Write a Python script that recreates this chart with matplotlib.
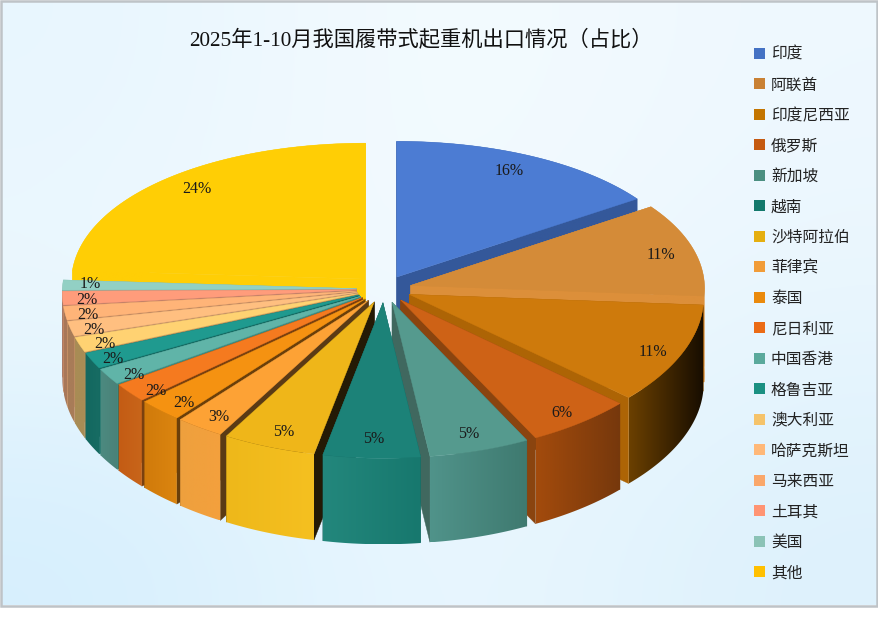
import numpy as np
import matplotlib
matplotlib.use('Agg')
import matplotlib.pyplot as plt
from matplotlib.colors import to_rgb
from matplotlib.patches import Polygon, Rectangle

# 2025 crawler crane exports, shares
countries = ['印度', '阿联酋', '印度尼西亚', '俄罗斯', '新加坡', '越南', '沙特阿拉伯', '菲律宾', '泰国',
             '尼日利亚', '中国香港', '格鲁吉亚', '澳大利亚', '哈萨克斯坦', '马来西亚', '土耳其', '美国', '其他']
shares = [15.5, 10.6, 10.7, 5.7, 5.4, 5.2, 5.0, 2.6, 2.4, 2.0, 1.7, 1.7, 1.6, 1.6, 1.5, 1.5, 1.1, 24.0]

legend_colors = ['#4472C4', '#C98134', '#C37500', '#C55A11', '#4B8F81', '#13796C', '#E5AF10', '#F19C38', '#EA8A0C',
                 '#EB6B15', '#5AA99C', '#1A9082', '#F5C36A', '#FFB878', '#FAA76A', '#FF9473', '#8BC3B6', '#FFC000']
top_colors = ['#4C7CD3', '#D48B38', '#CE7A0C', '#CE6216', '#559A8E', '#1C8278', '#EFB619', '#FDA235', '#F59211',
              '#F57A1F', '#60B4A8', '#1F9A8F', '#FFD272', '#FFBF80', '#FFB478', '#FF9C7B', '#92D0C4', '#FFCE05']
cut_colors = ['#34589A', '#DC8F3A', '#AD6405', '#8A440F', '#40685F', '#155F58', '#241A05', '#5A3A15', '#6A3F0A',
              '#7A400F', '#3F8A80', '#146A62', '#B8915A', '#C89468', '#C08860', '#C07E68', '#7DB5A8', '#FFCE05']
wall_left = ['#34589A', '#DC8F3A', '#6B4000', '#A34B0C', '#50938A', '#23877C', '#EEB81A', '#EEA03D', '#D07A0A',
             '#C45C14', '#4C8A80', '#136860', '#A88C55', '#A87C58', '#A8785A', '#A57560', '#7DA598', '#FFCE05']
wall_right = ['#34589A', '#DC8F3A', '#170D00', '#76380C', '#3F7A70', '#17786E', '#F5C020', '#F4A03D', '#DB8510',
              '#C8651A', '#4A8178', '#176C63', '#A88C55', '#A87C58', '#A8785A', '#A57560', '#7DA598', '#FFCE05']
# percent label placement: fraction of the radius, then a small pixel nudge
label_pos = [0.84, 0.89, 0.91, 0.91, 0.88, 0.88, 0.91, 0.93, 0.94, 0.94, 0.94, 0.94, 0.93, 0.93, 0.92, 0.92, 0.90, 0.85]
nudge_x = [-1, -1, -4, -2, 0, 1, 5, 7, 11, 12, 10, 5, 6, 3, -1, 1, -2, 1]
nudge_y = [-4, 2, 4, 2, 2, 0, -1, -1, 0, 4, 3, 2, 3, 4, 4, 3, -1, -4]

# pie geometry in pixels
CX, CY = 384, 289
R = 294
K = 0.495
PERSP = 0.058
PERSP_X = 0.02
DEPTH = 86
EXPLODE = 27.6


def proj(theta, r, ox, oy):
    # theta clockwise from 12 o'clock, y grows towards the viewer
    x = ox + r * np.sin(theta)
    y = oy - r * np.cos(theta)
    sx = CX + x * (1 + PERSP_X * y / R)
    sy = CY + K * y * (1 + PERSP * y / R)
    return np.column_stack([np.atleast_1d(sx), np.atleast_1d(sy)])


fig = plt.figure(figsize=(8.79, 6.17), dpi=100)
ax = fig.add_axes([0, 0, 1, 1])
ax.axis('off')

# background, soft blue wash inside a grey frame
bg = np.array([[to_rgb('#E8F6FE'), to_rgb('#F6FCFF'), to_rgb('#EEF8FE')],
               [to_rgb('#EDF8FE'), to_rgb('#F4FBFF'), to_rgb('#E9F6FE')],
               [to_rgb('#D6EFFD'), to_rgb('#EDF8FF'), to_rgb('#DDF1FC')]])
ax.imshow(bg, extent=(2, 877, 605, 1), interpolation='bicubic', aspect='auto', zorder=0)
ax.add_patch(Rectangle((1, 1), 876, 604.5, fill=False, ec='#BEC3C7', lw=1.8, zorder=1))

total = sum(shares)
edges = np.cumsum([0] + shares) / total * 2 * np.pi
mids = (edges[:-1] + edges[1:]) / 2
off_x = EXPLODE * np.sin(mids)
off_y = -EXPLODE * np.cos(mids)

# back slices first so the nearer ones cover their walls
order = np.argsort(-np.cos(mids))
z = 2
for i in order:
    t0, t1 = edges[i], edges[i + 1]
    ox, oy = off_x[i], off_y[i]
    thetas = np.linspace(t0, t1, max(int(np.degrees(t1 - t0)) * 2, 4))
    top_arc = np.vstack([proj(t, R, ox, oy) for t in thetas])
    apex = proj(0, 0, ox, oy)

    for t in (t0, t1):
        a_edge = proj(t, R, ox, oy)
        face = np.vstack([apex, a_edge, a_edge + [0, DEPTH], apex + [0, DEPTH]])
        ax.add_patch(Polygon(face, closed=True, fc=cut_colors[i], ec=cut_colors[i], lw=0.3, zorder=z))

    # outer wall: horizontal gradient clipped to the rim
    x_min, x_max = top_arc[:, 0].min(), top_arc[:, 0].max()
    grad = np.linspace(to_rgb(wall_left[i]), to_rgb(wall_right[i]), 64)[None, :, :]
    wall = np.vstack([top_arc, (top_arc + [0, DEPTH])[::-1]])
    im = ax.imshow(grad, extent=(x_min, x_max, wall[:, 1].max(), wall[:, 1].min()), aspect='auto',
                   interpolation='bilinear', zorder=z)
    im.set_clip_path(Polygon(wall, closed=True, transform=ax.transData))

    top = np.vstack([apex, top_arc])
    ax.add_patch(Polygon(top, closed=True, fc=top_colors[i], ec=top_colors[i], lw=0.3, zorder=z))
    z += 1

serif = ['Liberation Serif', 'Noto Sans CJK SC']
for i, v in enumerate(shares):
    lx, ly = proj(mids[i], label_pos[i] * R, off_x[i], off_y[i])[0]
    ax.text(lx + nudge_x[i], ly + nudge_y[i], f'{v:.0f}%', ha='center', va='center', fontsize=11.5,
            family=serif, color='#1a1a1a', zorder=50)

ax.text(420.5, 39.5, '2025年1-10月我国履带式起重机出口情况（占比）', ha='center', va='center', fontsize=15.3,
        family=serif, color='#111111', zorder=50)

for i, name in enumerate(countries):
    y = 53 + 30.5 * i
    ax.add_patch(Rectangle((754.5, y - 5.5), 11, 11, fc=legend_colors[i], ec='none', zorder=50))
    ax.text(771, y + 1.5, name, ha='left', va='center', fontsize=11.3, family=['Noto Sans CJK SC', 'DejaVu Sans'],
            color='#222222', zorder=50)

ax.set_xlim(0, 879)
ax.set_ylim(617, 0)
fig.savefig('out.png', dpi=100)
